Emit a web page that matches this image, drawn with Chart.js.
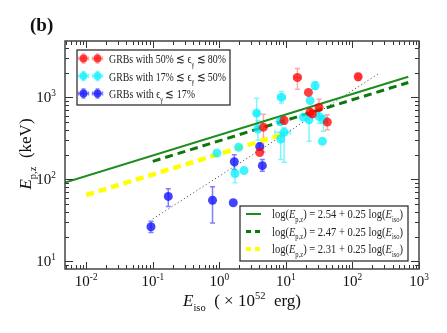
<!DOCTYPE html>
<html>
<head>
<meta charset="utf-8">
<script src="https://cdn.jsdelivr.net/npm/chart.js@4.4.1/dist/chart.umd.min.js"></script>
<style>
  html, body { margin: 0; padding: 0; background: #fff; }
</style>
</head>
<body>
<canvas id="chart" width="447" height="333"></canvas>
<script>
// GRBs with 50% <= eps <= 80%
const redX   = [14.9, 122, 21.8, 31.5, 23, 25, 42, 9.4, 4.6, 4.04];
const redY   = [1745, 1778, 1148, 750, 659, 628, 499, 522, 433, 212];
const redYLo = [1250, 1600, null, 583, 590, 570, 403, 470, 215, null];
const redYHi = [2245, 1950, null, 946, 730, 690, 611, 580, 620, null];
const redXLo = [13.2, 112, null, 29, null, null, null, null, null, null];
const redXHi = [16.8, 132, null, 34, null, null, null, null, null, null];

// GRBs with 17% <= eps <= 50%
const cyanX   = [0.92, 1.95, 1.72, 2.35, 3.64, 3.8, 8.36, 8.56, 9.4, 8.2, 27.5, 23.1, 18.3, 22.3, 31.5, 36.6, 35.4];
const cyanY   = [209, 246, 118, 128, 640, 410, 310, 1000, 374, 508, 1384, 912, 573, 532, 583, 532, 291];
const cyanYLo = [null, null, 91, null, 441, 300, 175, 850, 162, 460, 1250, null, null, 291, 480, 385, null];
const cyanYHi = [null, null, 145, null, 973, 520, 367, 1180, 430, 560, 1550, null, null, 600, 700, 600, null];
const cyanXLo = [null, null, null, null, 3.4, null, null, 7.5, 6.8, null, null, null, null, null, null, null, null];
const cyanXHi = [null, null, null, null, 3.9, null, null, 9.8, 11.7, null, null, null, null, null, null, null, null];

// GRBs with eps <= 17%
const blueX   = [0.094, 0.171, 0.79, 1.62, 1.68, 4.04, 4.43];
const blueY   = [26.5, 62, 55.7, 52, 164, 251, 147];
const blueYLo = [22.6, 46.7, 29.4, null, 132, 228, 126];
const blueYHi = [31, 77, 81.5, null, 200, 275, 175];

// fit lines log(Ep) = a + 0.25 log(Eiso)
const fitA = [2.54, 2.47, 2.31];
const fitB = 0.25;
const fitFrom = [0.0048, 0.1, 0.01];
const fitTo = [690, 690, 9.5];

// dotted guide line
const dotX = [0.1, 250];
const dotY = [33, 1950];

const xMin = 0.0048, xMax = 1000, yMin = 8.1, yMax = 4850;
const xDecades = [-2, -1, 0, 1, 2, 3];
const yDecades = [1, 2, 3];

const SERIF = "'Liberation Serif', 'DejaVu Serif', serif";
const RED = 'rgba(255,0,0,0.75)', RED_E = 'rgba(255,60,60,0.45)';
const CYAN = 'rgba(0,240,255,0.75)', CYAN_E = 'rgba(0,235,255,0.5)';
const BLUE = 'rgba(20,20,255,0.8)', BLUE_E = 'rgba(40,40,255,0.6)';
const GREEN = '#1e8c1e', DGREEN = '#0a780a', YELLOW = '#ffff00';

function pts(xs, ys) {
    return xs.map((x, i) => ({ x: x, y: ys[i] }));
}

function fitPts(i) {
    return [fitFrom[i], fitTo[i]].map(x => ({ x: x, y: Math.pow(10, fitA[i] + fitB * Math.log10(x)) }));
}

// draw text made of parts: normal / italic / sub / sup
function rich(ctx, parts, x, y, size) {
    let cx = x;
    parts.forEach(p => {
        let fs = size, dy = 0, style = '';
        if (p.s === 'sub') { fs = size * 0.62; dy = size * 0.28; }
        if (p.s === 'sup') { fs = size * 0.62; dy = -size * 0.42; }
        if (p.i) style = 'italic ';
        ctx.font = style + fs + 'px ' + SERIF;
        ctx.fillText(p.t, cx, y + dy);
        cx += ctx.measureText(p.t).width;
    });
    return cx - x;
}

function richWidth(ctx, parts, size) {
    let w = 0;
    parts.forEach(p => {
        let fs = (p.s === 'sub' || p.s === 'sup') ? size * 0.62 : size;
        ctx.font = (p.i ? 'italic ' : '') + fs + 'px ' + SERIF;
        w += ctx.measureText(p.t).width;
    });
    return w;
}

// squeeze a rich text into a given width
function richFit(ctx, parts, x, y, size, width) {
    const w = richWidth(ctx, parts, size);
    const k = Math.min(1, width / w);
    ctx.save();
    ctx.translate(x, y);
    ctx.scale(k, 1);
    rich(ctx, parts, 0, 0, size);
    ctx.restore();
}

function drawMarker(ctx, x, y, r, col, ecol, ex, ey) {
    ctx.strokeStyle = ecol;
    ctx.lineWidth = 1.5;
    ctx.beginPath();
    if (ex) { ctx.moveTo(x - ex, y); ctx.lineTo(x + ex, y); ctx.moveTo(x - ex, y - 2); ctx.lineTo(x - ex, y + 2); ctx.moveTo(x + ex, y - 2); ctx.lineTo(x + ex, y + 2); }
    if (ey) { ctx.moveTo(x, y - ey); ctx.lineTo(x, y + ey); ctx.moveTo(x - 2, y - ey); ctx.lineTo(x + 2, y - ey); ctx.moveTo(x - 2, y + ey); ctx.lineTo(x + 2, y + ey); }
    ctx.stroke();
    ctx.fillStyle = col;
    ctx.beginPath();
    ctx.arc(x, y, r, 0, Math.PI * 2);
    ctx.fill();
}

// error bars drawn under the markers
const errorBars = {
    id: 'errorBars',
    beforeDatasetsDraw(chart) {
        const ctx = chart.ctx, sx = chart.scales.x, sy = chart.scales.y;
        const groups = [
            [redX, redY, redYLo, redYHi, redXLo, redXHi, RED_E],
            [cyanX, cyanY, cyanYLo, cyanYHi, cyanXLo, cyanXHi, CYAN_E],
            [blueX, blueY, blueYLo, blueYHi, null, null, BLUE_E]
        ];
        ctx.save();
        ctx.lineWidth = 1.5;
        groups.forEach(g => {
            const [xs, ys, ylo, yhi, xlo, xhi, col] = g;
            ctx.strokeStyle = col;
            xs.forEach((xv, i) => {
                const x = sx.getPixelForValue(xv), y = sy.getPixelForValue(ys[i]);
                ctx.beginPath();
                if (ylo[i] != null) {
                    const y1 = sy.getPixelForValue(ylo[i]), y2 = sy.getPixelForValue(yhi[i]);
                    ctx.moveTo(x, y1); ctx.lineTo(x, y2);
                    ctx.moveTo(x - 2.5, y1); ctx.lineTo(x + 2.5, y1);
                    ctx.moveTo(x - 2.5, y2); ctx.lineTo(x + 2.5, y2);
                }
                if (xlo && xlo[i] != null) {
                    const x1 = sx.getPixelForValue(xlo[i]), x2 = sx.getPixelForValue(xhi[i]);
                    ctx.moveTo(x1, y); ctx.lineTo(x2, y);
                    ctx.moveTo(x1, y - 2.5); ctx.lineTo(x1, y + 2.5);
                    ctx.moveTo(x2, y - 2.5); ctx.lineTo(x2, y + 2.5);
                }
                ctx.stroke();
            });
        });
        ctx.restore();
    }
};

// frame, ticks, tick labels, titles and the two legends
const decorations = {
    id: 'decorations',
    afterDraw(chart) {
        const ctx = chart.ctx, a = chart.chartArea, sx = chart.scales.x, sy = chart.scales.y;
        ctx.save();
        ctx.strokeStyle = '#333';
        ctx.lineWidth = 1;
        ctx.beginPath();
        for (let d = -3; d <= 3; d++) {
            for (let k = 1; k <= 9; k++) {
                const v = k * Math.pow(10, d);
                if (v >= xMin && v <= xMax) {
                    const x = Math.round(sx.getPixelForValue(v)) + 0.5, len = k === 1 ? 7 : 4;
                    ctx.moveTo(x, a.bottom); ctx.lineTo(x, a.bottom - len);
                    ctx.moveTo(x, a.top); ctx.lineTo(x, a.top + len);
                }
                if (v >= yMin && v <= yMax) {
                    const y = Math.round(sy.getPixelForValue(v)) + 0.5, len = k === 1 ? 8 : 4;
                    ctx.moveTo(a.left, y); ctx.lineTo(a.left + len, y);
                    ctx.moveTo(a.right, y); ctx.lineTo(a.right - len, y);
                }
            }
        }
        ctx.stroke();
        ctx.lineWidth = 1.5;
        ctx.strokeStyle = '#444';
        ctx.strokeRect(a.left, a.top, a.width, a.height);

        ctx.fillStyle = '#111';
        ctx.textBaseline = 'alphabetic';
        xDecades.forEach(d => {
            const parts = [{ t: '10' }, { t: String(d), s: 'sup' }];
            const w = richWidth(ctx, parts, 15);
            rich(ctx, parts, sx.getPixelForValue(Math.pow(10, d)) - w / 2, 286, 15);
        });
        yDecades.forEach(d => {
            const parts = [{ t: '10' }, { t: String(d), s: 'sup' }];
            const w = richWidth(ctx, parts, 15);
            rich(ctx, parts, 56 - w, sy.getPixelForValue(Math.pow(10, d)) + 5, 15);
        });

        // axis titles
        const xt = [{ t: 'E', i: true }, { t: 'iso', s: 'sub' }, { t: '  ( \u00d7 10' }, { t: '52', s: 'sup' }, { t: '  erg)' }];
        const xw = richWidth(ctx, xt, 17);
        rich(ctx, xt, 242 - xw / 2, 306, 17);

        const yt = [{ t: 'E', i: true }, { t: 'p,z', s: 'sub' }, { t: '  (keV)' }];
        const yw = richWidth(ctx, yt, 17);
        ctx.save();
        ctx.translate(31, 154);
        ctx.rotate(-Math.PI / 2);
        rich(ctx, yt, -yw / 2, 0, 17);
        ctx.restore();

        ctx.font = 'bold 19px ' + SERIF;
        ctx.fillText('(b)', 30, 31);

        // legend for data groups
        ctx.fillStyle = '#fff';
        ctx.fillRect(77, 50, 153, 55);
        ctx.strokeStyle = '#333';
        ctx.lineWidth = 1.3;
        ctx.strokeRect(77, 50, 153, 55);
        const entries = [
            [RED, RED_E, [{ t: 'GRBs with 50% \u2272 \u03f5' }, { t: '\u03b3', s: 'sub' }, { t: ' \u2272 80%' }], 117],
            [CYAN, CYAN_E, [{ t: 'GRBs with 17% \u2272 \u03f5' }, { t: '\u03b3', s: 'sub' }, { t: ' \u2272 50%' }], 117],
            [BLUE, BLUE_E, [{ t: 'GRBs with \u03f5' }, { t: '\u03b3', s: 'sub' }, { t: ' \u2272 17%' }], 86]
        ];
        entries.forEach((e, i) => {
            const y = 58.5 + i * 17.5;
            drawMarker(ctx, 83.5, y, 4, e[0], e[1], 5, 4.5);
            drawMarker(ctx, 97.5, y, 4, e[0], e[1], 5, 4.5);
            ctx.fillStyle = '#222';
            richFit(ctx, e[2], 109, y + 4.5, 12.5, e[3]);
        });

        // legend for fit lines
        ctx.fillStyle = '#fff';
        ctx.fillRect(240, 206, 168, 55);
        ctx.strokeStyle = '#333';
        ctx.lineWidth = 1.3;
        ctx.strokeRect(240, 206, 168, 55);
        const styles = [[GREEN, 2, []], [DGREEN, 3, [5, 4]], [YELLOW, 4, [5, 4]]];
        fitA.forEach((v, i) => {
            const y = 214 + i * 17.5;
            ctx.strokeStyle = styles[i][0];
            ctx.lineWidth = styles[i][1];
            ctx.setLineDash(styles[i][2]);
            ctx.beginPath();
            ctx.moveTo(246, y); ctx.lineTo(261, y);
            ctx.stroke();
            ctx.setLineDash([]);
            ctx.fillStyle = '#222';
            richFit(ctx, [{ t: 'log(' }, { t: 'E', i: true }, { t: 'p,z', s: 'sub' }, { t: ') = ' + v.toFixed(2) + ' + ' + fitB.toFixed(2) + ' log(' },
                          { t: 'E', i: true }, { t: 'iso', s: 'sub' }, { t: ')' }], 272, y + 4, 12.5, 131);
        });
        ctx.restore();
    }
};

new Chart(document.getElementById('chart'), {
    type: 'scatter',
    data: {
        datasets: [
            { data: pts(redX, redY), backgroundColor: RED, pointRadius: 4.5, borderWidth: 0 },
            { data: pts(cyanX, cyanY), backgroundColor: CYAN, pointRadius: 4.5, borderWidth: 0 },
            { data: pts(blueX, blueY), backgroundColor: BLUE, pointRadius: 4.5, borderWidth: 0 },
            { type: 'line', data: fitPts(0), borderColor: GREEN, borderWidth: 2, pointRadius: 0, fill: false },
            { type: 'line', data: fitPts(1), borderColor: DGREEN, borderWidth: 3, borderDash: [8, 5], pointRadius: 0, fill: false },
            { type: 'line', data: fitPts(2), borderColor: YELLOW, borderWidth: 4.5, borderDash: [8, 5], pointRadius: 0, fill: false },
            { type: 'line', data: pts(dotX, dotY), borderColor: '#555', borderWidth: 1, borderDash: [1.2, 2.5], pointRadius: 0, fill: false }
        ]
    },
    options: {
        responsive: false,
        animation: false,
        devicePixelRatio: 1,
        layout: { padding: { left: 65, right: 28, top: 41, bottom: 64 } },
        plugins: { legend: { display: false }, tooltip: { enabled: false } },
        scales: {
            x: { type: 'logarithmic', min: xMin, max: xMax, display: false },
            y: { type: 'logarithmic', min: yMin, max: yMax, display: false }
        }
    },
    plugins: [errorBars, decorations]
});
</script>
</body>
</html>
